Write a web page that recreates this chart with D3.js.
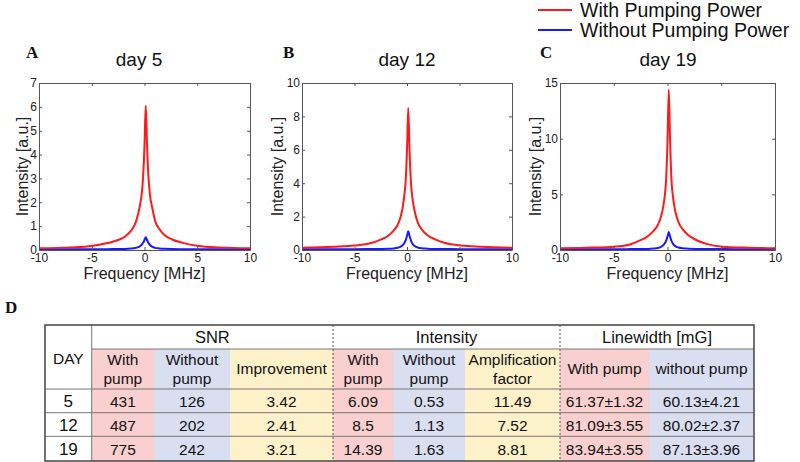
<!DOCTYPE html>
<html>
<head>
<meta charset="utf-8">
<script src="https://cdn.jsdelivr.net/npm/d3@7"></script>
<style>
  body { margin: 0; background: #fff; }
  svg { display: block; font-family: "Liberation Sans", Arial, sans-serif; }
</style>
</head>
<body>
<div id="chart"></div>
<script>
// spectra (frequency in MHz, intensity in a.u.)
const freqPts = [-10, -7, -5, -3.5, -2.5, -1.8, -1.3, -0.9, -0.6, -0.4, -0.25, -0.13, 0,
                 0.12, 0.24, 0.37, 0.52, 0.72, 1.02, 1.42, 1.92, 2.62, 3.62, 5.12, 7.12, 10];
const redA  = [0.07, 0.11, 0.17, 0.29, 0.42, 0.58, 0.8, 1.08, 1.52, 1.95, 2.4, 3.1, 4.4,
               6.05, 4.4, 3.1, 2.3, 1.8, 1.2, 0.87, 0.62, 0.44, 0.3, 0.17, 0.11, 0.07];
const blueA = [0.03, 0.03, 0.03, 0.035, 0.04, 0.045, 0.06, 0.08, 0.12, 0.17, 0.23, 0.3, 0.42,
               0.53, 0.42, 0.3, 0.21, 0.14, 0.09, 0.065, 0.05, 0.04, 0.035, 0.03, 0.03, 0.03];
const redB  = [0.13, 0.2, 0.27, 0.4, 0.62, 0.85, 1.15, 1.5, 2.0, 2.6, 3.3, 4.1, 6.0,
               8.5, 6.0, 4.1, 3.1, 2.35, 1.65, 1.22, 0.9, 0.65, 0.42, 0.27, 0.2, 0.13];
const blueB = [0.05, 0.05, 0.05, 0.055, 0.06, 0.07, 0.09, 0.13, 0.2, 0.3, 0.42, 0.58, 0.85,
               1.12, 0.85, 0.58, 0.38, 0.24, 0.15, 0.1, 0.08, 0.065, 0.06, 0.05, 0.05, 0.05];
const redC  = [0.15, 0.22, 0.3, 0.5, 0.88, 1.25, 1.72, 2.25, 3.0, 3.9, 4.9, 6.3, 9.8,
               14.4, 9.8, 6.3, 4.7, 3.5, 2.5, 1.85, 1.35, 0.92, 0.55, 0.3, 0.22, 0.15];
const blueC = [0.07, 0.07, 0.07, 0.08, 0.09, 0.1, 0.13, 0.18, 0.28, 0.42, 0.6, 0.82, 1.2,
               1.62, 1.2, 0.82, 0.55, 0.35, 0.22, 0.15, 0.12, 0.1, 0.09, 0.08, 0.07, 0.07];

const panelLetters = ["A", "B", "C"];
const panelTitles = ["day 5", "day 12", "day 19"];
const yMaxes = [7, 10, 15];
const yTickVals = [[0, 1, 2, 3, 4, 5, 6, 7], [0, 2, 4, 6, 8, 10], [0, 5, 10, 15]];
const xTickVals = [-10, -5, 0, 5, 10];
const legendLabels = ["With Pumping Power", "Without Pumping Power"];

// table D
const days = ["5", "12", "19"];
const snrWith = ["431", "487", "775"];
const snrWithout = ["126", "202", "242"];
const snrImprovement = ["3.42", "2.41", "3.21"];
const intWith = ["6.09", "8.5", "14.39"];
const intWithout = ["0.53", "1.13", "1.63"];
const ampFactor = ["11.49", "7.52", "8.81"];
const lwWith = ["61.37±1.32", "81.09±3.55", "83.94±3.55"];
const lwWithout = ["60.13±4.21", "80.02±2.37", "87.13±3.96"];

const W = 800, H = 462;
const RED = "#ff1a1a", BLUE = "#1a1aff";

const svg = d3.select("#chart").append("svg")
    .attr("width", W).attr("height", H);

// ---------- the three spectra ----------
const panels = [
  { x0: 39, x1: 250, red: redA, blue: blueA, titleX: 139 },
  { x0: 302, x1: 512, red: redB, blue: blueB, titleX: 407 },
  { x0: 560, x1: 775, red: redC, blue: blueC, titleX: 668 }
];
const yTop = 83, yBot = 250;
const plain = function (d) { return String(d); };   // keep the ascii hyphen like the original

panels.forEach(function (p, i) {
  const x = d3.scaleLinear().domain([-10, 10]).range([p.x0, p.x1]);
  const y = d3.scaleLinear().domain([0, yMaxes[i]]).range([yBot, yTop]);

  const g = svg.append("g");

  // curves
  const line = d3.line()
      .x(function (d) { return x(d[0]); })
      .y(function (d) { return y(d[1]); })
      .curve(d3.curveMonotoneX);

  g.append("path")
      .datum(freqPts.map(function (f, k) { return [f, p.blue[k]]; }))
      .attr("d", line).attr("fill", "none")
      .attr("stroke", BLUE).attr("stroke-width", 2);
  g.append("path")
      .datum(freqPts.map(function (f, k) { return [f, p.red[k]]; }))
      .attr("d", line).attr("fill", "none")
      .attr("stroke", RED).attr("stroke-width", 2);

  // axes, matlab style: box with inward ticks on all sides
  const ax = [
    d3.axisBottom(x).tickValues(xTickVals).tickSizeInner(-3).tickSizeOuter(0).tickPadding(3).tickFormat(plain),
    d3.axisTop(x).tickValues(xTickVals).tickSizeInner(-3).tickSizeOuter(0).tickFormat(""),
    d3.axisLeft(y).tickValues(yTickVals[i]).tickSizeInner(-3).tickSizeOuter(0).tickPadding(2).tickFormat(plain),
    d3.axisRight(y).tickValues(yTickVals[i]).tickSizeInner(-3).tickSizeOuter(0).tickFormat("")
  ];
  const trans = ["translate(0," + yBot + ")", "translate(0," + yTop + ")",
                 "translate(" + p.x0 + ",0)", "translate(" + p.x1 + ",0)"];
  ax.forEach(function (a, k) {
    const ag = g.append("g").attr("transform", trans[k]).call(a);
    ag.selectAll("path, line").attr("stroke", "#555");
    ag.selectAll("text").attr("font-size", 12).attr("fill", "#222")
      .attr("font-family", "Liberation Sans, Arial, sans-serif");
  });

  // labels
  g.append("text").attr("x", (p.x0 + p.x1) / 2).attr("y", 279)
      .attr("text-anchor", "middle").attr("font-size", 16).attr("fill", "#222")
      .text("Frequency [MHz]");
  const ylx = i === 0 ? p.x0 - 11 : p.x0 - 19;
  g.append("text")
      .attr("transform", "translate(" + ylx + "," + ((yTop + yBot) / 2) + ") rotate(-90)")
      .attr("text-anchor", "middle").attr("font-size", 16).attr("fill", "#222")
      .text("Intensity [a.u.]");
  g.append("text").attr("x", p.titleX).attr("y", 66)
      .attr("text-anchor", "middle").attr("font-size", 19).attr("fill", "#111")
      .text(panelTitles[i]);
  g.append("text").attr("x", [26, 283, 540][i]).attr("y", 58)
      .attr("font-family", "Liberation Serif, Times New Roman, serif")
      .attr("font-weight", "bold").attr("font-size", 17).attr("fill", "#111")
      .text(panelLetters[i]);
});

// legend
const leg = svg.append("g");
[RED, BLUE].forEach(function (c, i) {
  const yy = 10 + i * 20;
  leg.append("line").attr("x1", 538).attr("x2", 572).attr("y1", yy).attr("y2", yy)
      .attr("stroke", c).attr("stroke-width", 2);
  leg.append("text").attr("x", 580).attr("y", yy + 7)
      .attr("font-size", 19.5).attr("fill", "#111").text(legendLabels[i]);
});

// ---------- table D ----------
svg.append("text").attr("x", 5).attr("y", 313)
    .attr("font-family", "Liberation Serif, Times New Roman, serif")
    .attr("font-weight", "bold").attr("font-size", 17).attr("fill", "#111").text("D");

const PINK = "#f9cfcf", LBLUE = "#d9dff1", YEL = "#fdf1c9";
const colEdges = [45, 91.7, 154, 230, 333, 393, 465, 560, 649, 754];
const rowEdges = [325, 349, 389, 412.7, 436.3, 461];
const colFills = [null, PINK, LBLUE, YEL, PINK, LBLUE, YEL, PINK, LBLUE];
const colData = [days, snrWith, snrWithout, snrImprovement, intWith, intWithout, ampFactor, lwWith, lwWithout];
const subHeads = [null, ["With", "pump"], ["Without", "pump"], ["Improvement"],
                  ["With", "pump"], ["Without", "pump"], ["Amplification", "factor"],
                  ["With pump"], ["without pump"]];
const groupHeads = [["SNR", 1, 4], ["Intensity", 4, 7], ["Linewidth [mG]", 7, 9]];

const tb = svg.append("g").attr("font-size", 15.5).attr("fill", "#111");

colFills.forEach(function (c, k) {
  if (!c) return;
  tb.append("rect").attr("x", colEdges[k]).attr("y", rowEdges[1])
      .attr("width", colEdges[k + 1] - colEdges[k]).attr("height", rowEdges[5] - rowEdges[1])
      .attr("fill", c);
});

// horizontal rules
tb.append("line").attr("x1", colEdges[1]).attr("x2", colEdges[9])
    .attr("y1", rowEdges[1]).attr("y2", rowEdges[1]).attr("stroke", "#777").attr("stroke-width", 1);
[2, 3, 4].forEach(function (r) {
  tb.append("line").attr("x1", colEdges[0]).attr("x2", colEdges[9])
      .attr("y1", rowEdges[r]).attr("y2", rowEdges[r]).attr("stroke", "#777").attr("stroke-width", 1);
});
// vertical rules
tb.append("line").attr("x1", colEdges[1]).attr("x2", colEdges[1])
    .attr("y1", rowEdges[0]).attr("y2", rowEdges[5]).attr("stroke", "#777");
[4, 7].forEach(function (k) {
  tb.append("line").attr("x1", colEdges[k]).attr("x2", colEdges[k])
      .attr("y1", rowEdges[0]).attr("y2", rowEdges[5])
      .attr("stroke", "#555").attr("stroke-dasharray", "2,2");
});
// outer border
tb.append("rect").attr("x", colEdges[0]).attr("y", rowEdges[0])
    .attr("width", colEdges[9] - colEdges[0]).attr("height", rowEdges[5] - rowEdges[0])
    .attr("fill", "none").attr("stroke", "#444").attr("stroke-width", 1.5);

function cx(k) { return (colEdges[k] + colEdges[k + 1]) / 2; }

// header texts
tb.append("text").attr("x", cx(0)).attr("y", 364).attr("text-anchor", "middle").text("DAY");
groupHeads.forEach(function (h) {
  tb.append("text").attr("x", (colEdges[h[1]] + colEdges[h[2]]) / 2).attr("y", 343)
      .attr("text-anchor", "middle").attr("font-size", 16.5).text(h[0]);
});
subHeads.forEach(function (s, k) {
  if (!s) return;
  if (s.length === 2) {
    tb.append("text").attr("x", cx(k)).attr("y", 365).attr("text-anchor", "middle").text(s[0]);
    tb.append("text").attr("x", cx(k)).attr("y", 384).attr("text-anchor", "middle").text(s[1]);
  } else {
    tb.append("text").attr("x", cx(k)).attr("y", 374).attr("text-anchor", "middle").text(s[0]);
  }
});

// body texts
const rowBase = [407, 431, 455];
colData.forEach(function (col, k) {
  col.forEach(function (v, r) {
    tb.append("text").attr("x", cx(k)).attr("y", rowBase[r])
        .attr("text-anchor", "middle").attr("font-size", k === 0 ? 17 : 15.5).text(v);
  });
});
</script>
</body>
</html>
